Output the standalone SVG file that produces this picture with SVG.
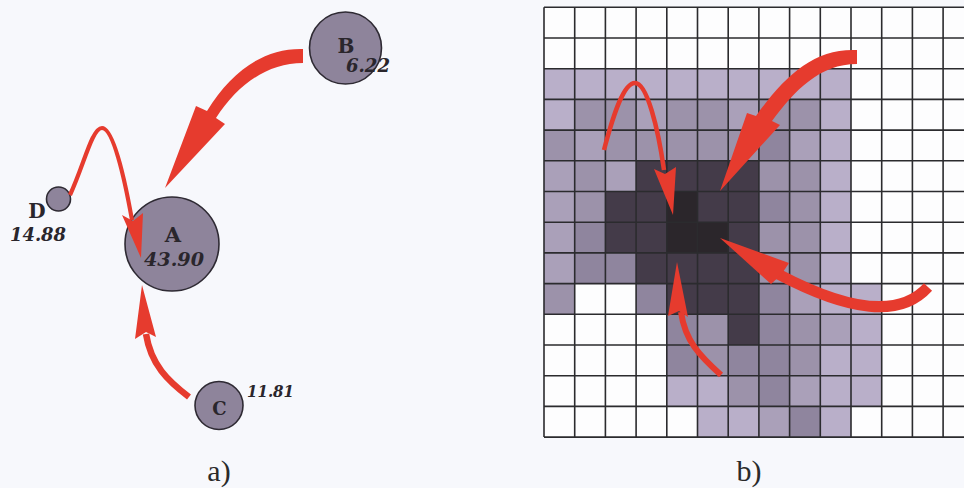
<svg xmlns="http://www.w3.org/2000/svg" width="964" height="488" viewBox="0 0 964 488">
<style>
.bg{fill:#f7f8fc}
.node{fill:#8e849b;stroke:#2e2a33;stroke-width:1.6}
.lbl{font-family:"DejaVu Serif","Liberation Serif",serif;font-weight:bold;fill:#2a262c}
.num{font-family:"DejaVu Serif","Liberation Serif",serif;font-weight:bold;font-style:italic;fill:#2a262c}
.cap{font-family:"Liberation Serif",serif;font-size:30px;fill:#2a2a2a}
.red{fill:#e63b2e}
.redl{fill:none;stroke:#e63b2e;stroke-linecap:butt}
.w{fill:#fdfdfe}
.l1{fill:#b9afc9}
.l2{fill:#aaa0b9}
.l3{fill:#9c92aa}
.l4{fill:#8f859e}
.d1{fill:#443b49}
.d2{fill:#2b262b}
.gl{fill:none;stroke:#2b2b2e;stroke-width:1.6}
</style>
<rect class="bg" x="0" y="0" width="964" height="488"/>

<g id="grid" transform="translate(544 7.3) scale(30.7)">
  <rect class="w" x="0" y="0" width="14" height="14"/>
  <rect class="l1" x="0" y="2" width="10" height="1"/>
  <rect class="l1" x="0" y="3" width="1" height="1"/><rect class="l3" x="1" y="3" width="1" height="1"/><rect class="l3" x="2" y="3" width="1" height="1"/><rect class="l2" x="3" y="3" width="1" height="1"/><rect class="l3" x="4" y="3" width="1" height="1"/><rect class="l3" x="5" y="3" width="1" height="1"/><rect class="l2" x="6" y="3" width="1" height="1"/><rect class="l3" x="7" y="3" width="1" height="1"/><rect class="l3" x="8" y="3" width="1" height="1"/><rect class="l1" x="9" y="3" width="1" height="1"/>
  <rect class="l3" x="0" y="4" width="1" height="1"/><rect class="l2" x="1" y="4" width="1" height="1"/><rect class="l3" x="2" y="4" width="1" height="1"/><rect class="l3" x="3" y="4" width="1" height="1"/><rect class="l3" x="4" y="4" width="1" height="1"/><rect class="l3" x="5" y="4" width="1" height="1"/><rect class="l3" x="6" y="4" width="1" height="1"/><rect class="l4" x="7" y="4" width="1" height="1"/><rect class="l2" x="8" y="4" width="1" height="1"/><rect class="l1" x="9" y="4" width="1" height="1"/>
  <rect class="l2" x="0" y="5" width="1" height="1"/><rect class="l3" x="1" y="5" width="1" height="1"/><rect class="l2" x="2" y="5" width="1" height="1"/><rect class="d1" x="3" y="5" width="1" height="1"/><rect class="d1" x="4" y="5" width="1" height="1"/><rect class="d1" x="5" y="5" width="1" height="1"/><rect class="d1" x="6" y="5" width="1" height="1"/><rect class="l3" x="7" y="5" width="1" height="1"/><rect class="l3" x="8" y="5" width="1" height="1"/><rect class="l1" x="9" y="5" width="1" height="1"/>
  <rect class="l2" x="0" y="6" width="1" height="1"/><rect class="l3" x="1" y="6" width="1" height="1"/><rect class="d1" x="2" y="6" width="1" height="1"/><rect class="d1" x="3" y="6" width="1" height="1"/><rect class="d2" x="4" y="6" width="1" height="1"/><rect class="d1" x="5" y="6" width="1" height="1"/><rect class="d1" x="6" y="6" width="1" height="1"/><rect class="l4" x="7" y="6" width="1" height="1"/><rect class="l3" x="8" y="6" width="1" height="1"/><rect class="l1" x="9" y="6" width="1" height="1"/>
  <rect class="l2" x="0" y="7" width="1" height="1"/><rect class="l4" x="1" y="7" width="1" height="1"/><rect class="d1" x="2" y="7" width="1" height="1"/><rect class="d1" x="3" y="7" width="1" height="1"/><rect class="d2" x="4" y="7" width="1" height="1"/><rect class="d2" x="5" y="7" width="1" height="1"/><rect class="d1" x="6" y="7" width="1" height="1"/><rect class="l3" x="7" y="7" width="1" height="1"/><rect class="l3" x="8" y="7" width="1" height="1"/><rect class="l1" x="9" y="7" width="1" height="1"/>
  <rect class="l2" x="0" y="8" width="1" height="1"/><rect class="l4" x="1" y="8" width="1" height="1"/><rect class="l4" x="2" y="8" width="1" height="1"/><rect class="d1" x="3" y="8" width="1" height="1"/><rect class="d1" x="4" y="8" width="1" height="1"/><rect class="d1" x="5" y="8" width="1" height="1"/><rect class="d1" x="6" y="8" width="1" height="1"/><rect class="l3" x="7" y="8" width="1" height="1"/><rect class="l3" x="8" y="8" width="1" height="1"/><rect class="l1" x="9" y="8" width="1" height="1"/>
  <rect class="l3" x="0" y="9" width="1" height="1"/><rect class="l4" x="3" y="9" width="1" height="1"/><rect class="d1" x="4" y="9" width="1" height="1"/><rect class="d1" x="5" y="9" width="1" height="1"/><rect class="d1" x="6" y="9" width="1" height="1"/><rect class="l4" x="7" y="9" width="1" height="1"/><rect class="l2" x="8" y="9" width="1" height="1"/><rect class="l1" x="9" y="9" width="1" height="1"/><rect class="l1" x="10" y="9" width="1" height="1"/>
  <rect class="l4" x="4" y="10" width="1" height="1"/><rect class="l3" x="5" y="10" width="1" height="1"/><rect class="d1" x="6" y="10" width="1" height="1"/><rect class="l4" x="7" y="10" width="1" height="1"/><rect class="l3" x="8" y="10" width="1" height="1"/><rect class="l2" x="9" y="10" width="1" height="1"/><rect class="l1" x="10" y="10" width="1" height="1"/>
  <rect class="l4" x="4" y="11" width="1" height="1"/><rect class="l3" x="5" y="11" width="1" height="1"/><rect class="l4" x="6" y="11" width="1" height="1"/><rect class="l4" x="7" y="11" width="1" height="1"/><rect class="l3" x="8" y="11" width="1" height="1"/><rect class="l1" x="9" y="11" width="1" height="1"/><rect class="l1" x="10" y="11" width="1" height="1"/>
  <rect class="l1" x="4" y="12" width="1" height="1"/><rect class="l1" x="5" y="12" width="1" height="1"/><rect class="l3" x="6" y="12" width="1" height="1"/><rect class="l4" x="7" y="12" width="1" height="1"/><rect class="l2" x="8" y="12" width="1" height="1"/><rect class="l1" x="9" y="12" width="1" height="1"/><rect class="l1" x="10" y="12" width="1" height="1"/>
  <rect class="l1" x="5" y="13" width="1" height="1"/><rect class="l1" x="6" y="13" width="1" height="1"/><rect class="l2" x="7" y="13" width="1" height="1"/><rect class="l4" x="8" y="13" width="1" height="1"/><rect class="l1" x="9" y="13" width="1" height="1"/>
  <path class="gl" vector-effect="non-scaling-stroke" d="M0 0V14M1 0V14M2 0V14M3 0V14M4 0V14M5 0V14M6 0V14M7 0V14M8 0V14M9 0V14M10 0V14M11 0V14M12 0V14M13 0V14M0 0H14M0 1H14M0 2H14M0 3H14M0 4H14M0 5H14M0 6H14M0 7H14M0 8H14M0 9H14M0 10H14M0 11H14M0 12H14M0 13H14M0 14H14"/>
</g>

<g id="node-A">
  <circle class="node" cx="172" cy="244" r="47"/>
  <text class="lbl" x="173" y="242" font-size="21" text-anchor="middle">A</text>
  <text class="num" x="174" y="266" font-size="19" text-anchor="middle" textLength="60" lengthAdjust="spacingAndGlyphs">43.90</text>
</g>
<g id="node-B">
  <circle class="node" cx="345.5" cy="48" r="36"/>
  <text class="lbl" x="346" y="53" font-size="20" text-anchor="middle">B</text>
  <text class="num" x="346" y="72" font-size="18" textLength="44" lengthAdjust="spacingAndGlyphs">6.22</text>
</g>
<g id="node-D">
  <circle class="node" cx="58.5" cy="199" r="12"/>
  <text class="lbl" x="37" y="218" font-size="20" text-anchor="middle">D</text>
  <text class="num" x="10" y="241" font-size="18" textLength="56" lengthAdjust="spacingAndGlyphs">14.88</text>
</g>
<g id="node-C">
  <circle class="node" cx="219" cy="405.5" r="24"/>
  <text class="lbl" x="219.5" y="415" font-size="18" text-anchor="middle">C</text>
  <text class="num" x="247" y="397" font-size="16" textLength="47" lengthAdjust="spacingAndGlyphs">11.81</text>
</g>

<g id="connectors">
  <path class="red" d="M303 49 C265 48 232 70 207 111 L196 106 L165 188 L225 124 L216 118 C238 84 268 63 303 63 Z"/>
  <path class="redl" stroke-width="4.2" d="M70 195 C84 165 92 128 102 128 C113 128 124 175 132 220"/>
  <path class="red" d="M122 215 L141 258 L143 213 L133 221 Z"/>
  <path class="redl" stroke-width="6.5" d="M189 397 C168 381 151 365 146 334"/>
  <path class="red" d="M135 339 L142 285 L156 337 L146 332 Z"/>

  <path class="redl" stroke-width="4.5" d="M604 150 C614 112 624 83 635 83 C647 83 658 128 664 170"/>
  <path class="red" d="M654 169 L673 215 L676 167 L665 174 Z"/>
  <path class="red" d="M857 50 C815 48 785 75 756 116 L747 113 L720 191 L780 125 L772 121 C795 90 820 64 857 64 Z"/>
  <path class="redl" stroke-width="11" d="M928 287 C900 318 850 312 778 274"/>
  <path class="red" d="M789 263 L720 238 L771 284 L781 275 Z"/>
  <path class="redl" stroke-width="6" d="M721 375 C700 356 685 341 681 312"/>
  <path class="red" d="M668 316 L677 262 L688 317 L679 311 Z"/>
</g>

<text class="cap" x="219" y="481" text-anchor="middle">a)</text>
<text class="cap" x="749" y="481" text-anchor="middle">b)</text>
</svg>
